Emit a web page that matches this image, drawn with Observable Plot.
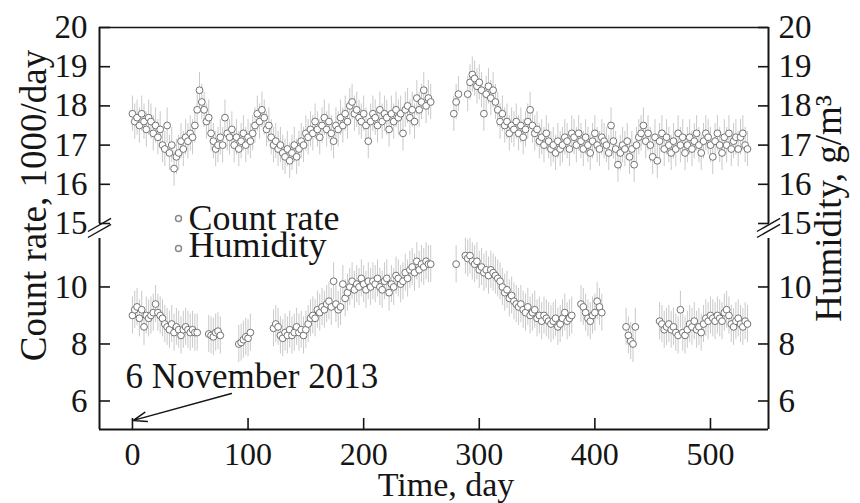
<!DOCTYPE html>
<html>
<head>
<meta charset="utf-8">
<script src="https://cdn.jsdelivr.net/npm/d3@7"></script>
<script src="https://cdn.jsdelivr.net/npm/@observablehq/plot@0.6"></script>
<style>
  html, body { margin: 0; padding: 0; background: #fff; }
  #chart { width: 860px; height: 503px; }
</style>
</head>
<body>
<div id="chart"></div>
<script>
// ---------- data ----------
const countDay = [
  0,2,4,6,8,10,12,14,16,18, 20,22,24,26,28,30,32,34,36,38,
  40,42,44,46,48,50,52,54,56,58, 60,62,64,66,68,70,72,74,76,78,
  80,82,84,86,88,90,92,94,96,98, 100,102,104,106,108,110,112,114,116,118,
  120,122,124,126,128,130,132,134,136,138, 140,142,144,146,148,150,152,154,156,158,
  160,162,164,166,168,170,172,174,176,178, 180,182,184,186,188,190,192,194,196,198,
  200,202,204,206,208,210,212,214,216,218, 220,222,224,226,228,230,232,234,236,238,
  240,242,244,246,248,250,252,254,256,258,
  278,280,282,
  290,292,294,296,298,300,302,304,306,308, 310,312,314,316,318,320,322,324,326,328,
  330,332,334,336,338,340,342,344,346,348, 350,352,354,356,358,360,362,364,366,368,
  370,372,374,376,378,380,382,384,386,388, 390,392,394,396,398,400,402,404,406,408,
  410,412,414,416,418,420,422,424,426,428, 430,432,434,436,438,440,442,444,446,448,
  450,452,454,456,458,460,462,464,466,468, 470,472,474,476,478,480,482,484,486,488,
  490,492,494,496,498,500,502,504,506,508, 510,512,514,516,518,520,522,524,526,528,
  530,532
];
const countRate = [
  17.8,17.6,17.7,17.5,17.8,17.6,17.4,17.7,17.6,17.3, 17.5,17.2,17.4,17.0,16.9,17.5,16.8,17.0,16.4,16.7,
  16.8,17.1,16.9,17.2,17.1,17.3,17.2,17.5,17.9,18.4, 18.1,17.9,17.6,17.7,17.3,17.1,16.9,17.0,17.2,17.0,
  17.7,17.3,17.2,17.4,17.0,17.2,16.9,17.1,17.3,17.0, 17.2,17.1,17.3,17.5,17.8,17.6,17.9,17.7,17.4,17.5,
  17.2,17.0,17.1,16.9,17.0,16.8,16.7,16.9,16.6,16.8, 17.0,16.7,16.9,17.1,17.0,17.3,17.2,17.4,17.3,17.6,
  17.4,17.2,17.5,17.7,17.4,17.6,17.3,17.1,17.5,17.4, 17.7,17.5,17.8,17.6,18.0,18.1,17.8,17.9,17.7,17.6,
  17.8,17.5,17.1,17.6,17.8,17.7,17.5,17.9,17.6,17.8, 17.7,17.4,17.8,17.6,17.9,17.7,17.8,17.3,17.9,18.0,
  17.7,17.9,17.6,18.2,17.9,18.1,18.4,18.0,18.2,18.1,
  17.8,18.1,18.3,
  18.3,18.6,18.8,18.7,18.5,18.6,18.4,17.8,18.3,18.5, 18.2,18.4,18.1,17.9,17.6,17.8,17.5,17.6,17.3,17.5,
  17.4,17.6,17.3,17.5,17.2,17.4,17.6,17.9,17.5,17.3, 17.4,17.1,17.2,17.0,17.3,17.1,16.9,17.0,16.8,17.1,
  16.9,17.0,17.2,17.1,16.9,17.3,17.2,17.0,17.3,17.1, 16.9,17.2,17.0,16.8,17.1,17.3,17.0,16.9,17.2,17.1,
  17.0,16.8,17.5,17.1,16.9,16.5,16.8,17.0,16.9,17.1, 16.7,16.9,16.5,17.0,17.2,17.3,17.5,17.1,17.3,17.0,
  16.7,17.2,16.6,17.1,17.3,16.9,17.2,17.0,16.8,17.1, 16.9,17.3,17.0,17.2,16.8,17.0,17.2,16.9,17.1,17.3,
  17.0,16.8,17.1,17.3,17.2,17.0,16.7,17.1,17.3,17.0, 16.8,17.2,17.0,17.3,16.9,17.1,17.2,16.9,17.2,17.3,
  17.0,16.9
];
const humDay = [
  0,2,4,6,8,10,12,14,16,18, 20,22,24,26,28,30,32,34,36,38, 40,42,44,46,48,50,52,54,56,
  66,68,70,72,74,76,
  92,94,96,98,100,102,
  122,124,126,128,130,132,134,136,138,140, 142,144,146,148,150,152,154,156,158,160,
  162,164,166,168,170,172,174,176,178,180, 182,184,186,188,190,192,194,196,198,200,
  202,204,206,208,210,212,214,216,218,220, 222,224,226,228,230,232,234,236,238,240,
  242,244,246,248,250,252,254,256,258,
  280,
  288,290,292,294,296,298,300,302,304,306, 308,310,312,314,316,318,320,322,324,326,
  328,330,332,334,336,338,340,342,344,346, 348,350,352,354,356,358,360,362,364,366,
  368,370,372,374,376,378,380,
  388,390,392,394,396,398,400,402,404,406,
  427,429,431,433,435,
  456,458,460,462,464,466,468,470,472,474, 476,478,480,482,484,486,488,490,492,494,
  496,498,500,502,504,506,508,510,512,514, 516,518,520,522,524,526,528,530,532
];
const humidity = [
  9.0,9.2,9.3,8.9,9.2,8.6,9.0,8.9,9.0,9.1, 9.4,9.1,9.0,8.9,8.7,8.6,8.5,8.7,8.4,8.6, 8.5,8.3,8.5,8.6,8.5,8.4,8.5,8.4,8.4,
  8.35,8.3,8.25,8.4,8.45,8.3,
  8.0,8.05,8.15,8.25,8.2,8.4,
  8.55,8.7,8.6,8.3,8.2,8.4,8.3,8.5,8.3,8.4, 8.6,8.4,8.5,8.3,8.5,8.7,8.9,9.0,8.9,9.2,
  9.1,9.3,9.2,9.4,9.5,9.3,10.2,9.4,9.2,9.3, 10.1,9.6,9.8,10.0,10.2,9.9,10.1,10.0,10.3,10.1,
  9.9,10.2,10.0,10.2,10.1,10.3,10.0,9.9,10.2,10.3, 9.8,10.1,10.0,10.4,10.3,10.1,10.2,10.5,10.3,10.6,
  10.7,10.5,10.9,10.6,10.8,10.7,10.9,10.8,10.8,
  10.8,
  11.1,11.0,11.1,10.9,10.8,10.9,10.6,10.7,10.5,10.6, 10.4,10.6,10.5,10.4,10.3,10.2,10.0,9.8,9.9,9.6,
  9.7,9.5,9.4,9.3,9.4,9.2,9.1,9.3,9.0,9.1, 9.2,8.9,9.0,8.8,9.0,8.9,8.8,8.7,8.8,8.9,
  8.6,8.7,8.9,9.1,8.8,8.9,9.0,
  9.4,9.3,9.1,8.9,8.8,9.0,9.1,9.5,9.3,9.1,
  8.6,8.3,8.1,8.0,8.6,
  8.8,8.7,8.5,8.6,8.7,8.5,8.6,8.4,8.3,9.2, 8.4,8.3,8.5,8.7,8.6,8.8,8.5,8.6,8.4,8.7,
  8.9,8.8,9.0,8.9,8.8,9.0,8.9,8.8,9.1,9.2, 9.0,8.7,8.6,8.8,8.9,8.7,8.6,8.8,8.7
];
const countErr = 0.45;   // half-height of the grey error bars (1000/day)
const humErr = 0.65;     // half-height of the grey error bars (g/m3)

const xTicks = [0, 100, 200, 300, 400, 500];
const yTicks = [6, 8, 10, 15, 16, 17, 18, 19, 20];
const seriesNames = ["Count rate", "Humidity"];
const xLabel = "Time, day";
const yLabelLeft = "Count rate, 1000/day";
const yLabelRight = "Humidity, g/m\u00b3";
const noteText = ["6 November 2013"];
const noteTextPos = [{day: -6, value: 6.44}];
const noteArrow = [{day1: 85.6, value1: 6.26, day2: 0.8, value2: 5.32}];

// ---------- layout ----------
const W = 860, H = 503;
const mTop = 27, mRight = 92, mBottom = 74, mLeft = 99;
const xDomain = [-28.5, 550.2];
// broken axis: lower part 5..11.7, gap, upper part 15..20
const yDomain = [5, 11.7, 15, 20];
const yRange = [H - mBottom, 238, 223, mTop];
const breakLinks = [
  {x1: xDomain[0] - 10, x2: xDomain[0] + 10, y1: 12.8, y2: 15.08},
  {x1: xDomain[1] - 10, x2: xDomain[1] + 10, y1: 12.8, y2: 15.08}
];

const font = "'Liberation Serif','Times New Roman',Times,serif";
const ink = "#151515";

const count = countDay.map((d, i) => ({day: d, value: countRate[i]}));
const hum = humDay.map((d, i) => ({day: d, value: humidity[i]}));

const chart = Plot.plot({
  width: W, height: H,
  marginTop: mTop, marginRight: mRight, marginBottom: mBottom, marginLeft: mLeft,
  style: {fontFamily: font, color: ink, background: "#fff", overflow: "visible"},
  x: {type: "linear", domain: xDomain},
  y: {type: "linear", domain: yDomain, range: yRange},
  marks: [
    // error bars
    Plot.ruleX(count, {x: "day", y1: d => d.value - countErr, y2: d => d.value + countErr, stroke: "#c9c9c9", strokeWidth: 1}),
    Plot.ruleX(hum, {x: "day", y1: d => d.value - humErr, y2: d => d.value + humErr, stroke: "#c9c9c9", strokeWidth: 1}),
    // points
    Plot.dot(count, {x: "day", y: "value", r: 3.4, stroke: "#727272", strokeWidth: 1, fill: "#fff"}),
    Plot.dot(hum, {x: "day", y: "value", r: 3.4, stroke: "#727272", strokeWidth: 1, fill: "#fff"}),
    // frame pieces (broken axes)
    Plot.ruleY([yDomain[3]], {stroke: ink, strokeWidth: 1.3}),
    Plot.ruleY([yDomain[0]], {stroke: ink, strokeWidth: 2}),
    Plot.ruleX(xDomain, {y1: yDomain[2], y2: yDomain[3], stroke: ink, strokeWidth: 2}),
    Plot.ruleX(xDomain, {y1: yDomain[0], y2: yDomain[1], stroke: ink, strokeWidth: 2}),
    Plot.link(breakLinks, {x1: "x1", x2: "x2", y1: "y1", y2: "y2", stroke: ink, strokeWidth: 1.4, dy: -2}),
    Plot.link(breakLinks, {x1: "x1", x2: "x2", y1: "y1", y2: "y2", stroke: ink, strokeWidth: 1.4, dy: 4}),
    // axes
    Plot.axisX({ticks: xTicks, anchor: "bottom", tickSize: -11, tickPadding: 24, tickFormat: d => String(d), fontSize: 32, label: null, stroke: ink, strokeWidth: 1.6, fill: ink}),
    Plot.axisY({ticks: yTicks, anchor: "left", tickSize: -11, tickPadding: 23, tickFormat: d => String(d), fontSize: 33, label: null, stroke: ink, strokeWidth: 1.6, fill: ink}),
    Plot.axisY({ticks: yTicks, anchor: "right", tickSize: -11, tickPadding: 21, tickFormat: d => String(d), fontSize: 33, label: null, stroke: ink, strokeWidth: 1.6, fill: ink}),
    // axis titles
    Plot.text([xLabel], {frameAnchor: "bottom", dx: 12, dy: 66, lineAnchor: "bottom", textAnchor: "middle", fontSize: 34, fill: ink}),
    Plot.text([yLabelLeft], {frameAnchor: "left", rotate: -90, dx: -54, dy: -23, lineAnchor: "bottom", textAnchor: "middle", fontSize: 37, fill: ink}),
    Plot.text([yLabelRight], {frameAnchor: "right", rotate: -90, dx: 72, dy: -20, lineAnchor: "bottom", textAnchor: "middle", fontSize: 37, fill: ink}),
    // legend
    Plot.dot([seriesNames[0]], {frameAnchor: "top-left", dx: 79, dy: 191, r: 3, stroke: "#8a8a8a", fill: "#fff"}),
    Plot.dot([seriesNames[1]], {frameAnchor: "top-left", dx: 79, dy: 221, r: 3, stroke: "#8a8a8a", fill: "#fff"}),
    Plot.text([seriesNames[0]], {frameAnchor: "top-left", dx: 89, dy: 202, lineAnchor: "bottom", textAnchor: "start", fontSize: 36, fill: ink}),
    Plot.text([seriesNames[1]], {frameAnchor: "top-left", dx: 89, dy: 229, lineAnchor: "bottom", textAnchor: "start", fontSize: 36, fill: ink}),
    // annotation
    Plot.text(noteTextPos, {x: "day", y: "value", text: () => noteText[0], lineAnchor: "bottom", textAnchor: "start", fontSize: 35, fill: ink}),
    Plot.arrow(noteArrow, {x1: "day1", y1: "value1", x2: "day2", y2: "value2", stroke: ink, strokeWidth: 1.5, headLength: 14, headAngle: 40})
  ]
});
document.getElementById("chart").appendChild(chart);
</script>
</body>
</html>
